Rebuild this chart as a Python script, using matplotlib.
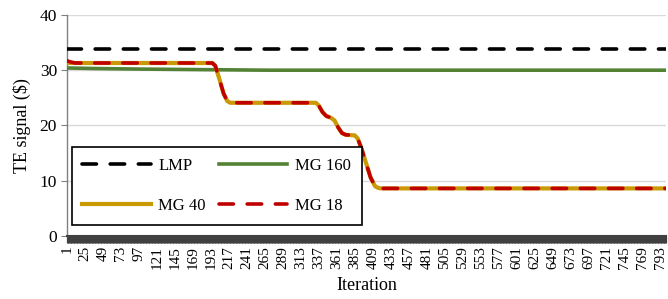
import matplotlib.pyplot as plt
import numpy as np

plt.rcParams['font.family'] = ['Liberation Serif', 'DejaVu Serif']

# Key points (iteration, value)
lmp_iter = [1, 800]
lmp_val = [33.8, 33.8]

mg160_iter = [1, 40, 100, 180, 270, 800]
mg160_val = [30.4, 30.3, 30.2, 30.1, 30.0, 30.0]

mg40_iter = [1, 195, 199, 204, 210, 215, 219, 333, 337, 342, 347, 353, 358,
             363, 368, 373, 385, 389, 394, 400, 406, 412, 416, 420, 800]
mg40_val = [31.3, 31.3, 30.8, 28.6, 25.8, 24.4, 24.1, 24.1, 23.6, 22.4, 21.7,
            21.4, 20.9, 19.6, 18.6, 18.3, 18.2, 17.6, 15.8, 13.2, 10.6, 9.0,
            8.7, 8.6, 8.6]

mg18_iter = [1, 6, 12] + mg40_iter[1:]
mg18_val = [31.7, 31.5, 31.3] + mg40_val[1:]

tick_iters = list(range(1, 800, 24))

fig = plt.figure(figsize=(6.68, 2.99), dpi=100)
ax = fig.add_axes([0.1, 0.211, 0.897, 0.739])

dash = (0, (4.0, 3.8))
l_lmp, = ax.plot(lmp_iter, lmp_val, color='black', lw=2.6, ls=dash,
                 dash_capstyle='round', label='LMP', zorder=3)
l_160, = ax.plot(mg160_iter, mg160_val, color='#548235', lw=2.6, label='MG 160', zorder=3)
l_40, = ax.plot(mg40_iter, mg40_val, color='#c99a06', lw=3.0, label='MG 40', zorder=4)
l_18, = ax.plot(mg18_iter, mg18_val, color='#c00000', lw=2.6, ls=dash,
                dash_capstyle='round', label='MG 18', zorder=5)

ax.set_xlim(1, 800)
ax.set_ylim(0, 40)
ax.set_yticks([0, 10, 20, 30, 40])
ax.set_xticks(tick_iters)
ax.set_xticklabels([str(t) for t in tick_iters], rotation=90, fontsize=11)
ax.set_xticks(np.arange(1, 801), minor=True)
ax.tick_params(axis='x', which='both', length=5, width=0.9, color='#404040', pad=2)
ax.tick_params(axis='y', length=4, width=0.8, color='#808080', labelsize=12.5, pad=3)

ax.grid(axis='y', color='#d9d9d9', lw=1.0, zorder=0)
for s in ['top', 'right']:
    ax.spines[s].set_visible(False)
ax.spines['left'].set_color('#808080')
ax.spines['left'].set_linewidth(1.0)
ax.spines['bottom'].set_color('#404040')
ax.spines['bottom'].set_linewidth(1.5)

ax.set_xlabel('Iteration', fontsize=13, labelpad=6)
ax.set_ylabel('TE signal ($)', fontsize=13, labelpad=6)

# matplotlib fills legend columns first, so order gives rows LMP/MG 160, MG 40/MG 18
leg = ax.legend([l_lmp, l_40, l_160, l_18], ['LMP', 'MG 40', 'MG 160', 'MG 18'],
                loc='upper left', bbox_to_anchor=(0.008, 0.403),
                ncol=2, fontsize=12, handlelength=4.1,
                labelspacing=1.45, borderpad=0.65, handletextpad=0.45,
                columnspacing=0.8, borderaxespad=0, fancybox=False,
                framealpha=1, edgecolor='black')
leg.get_frame().set_linewidth(1.2)

fig.savefig('out.png', dpi=100)
